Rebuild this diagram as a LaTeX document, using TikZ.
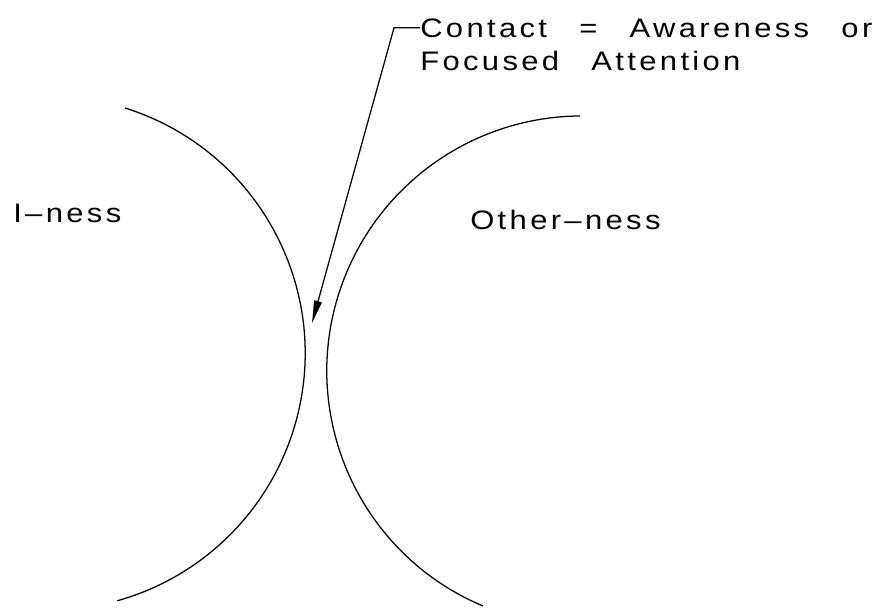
\documentclass[tikz,border=0pt]{standalone}
\usepackage{fontspec}
\setmainfont{Liberation Sans}
\newfontfamily\cadfont[FakeStretch=1.16,LetterSpace=12.5,WordSpace=2.7]{Liberation Sans}
\usetikzlibrary{arrows.meta}

\begin{document}
\begin{tikzpicture}[x=0.025cm, y=-0.025cm,
  cadtext/.style={font=\cadfont\fontsize{19}{23}\selectfont, inner sep=0pt, anchor=base west},
  contour/.style={line width=0.9pt},
  pointer/.style={line width=0.9pt, -{Triangle[length=16pt, width=5.5pt]}},
]
  \useasboundingbox (0,0) rectangle (874,607);

  % the two regions ---------------------------------------------------------
  \draw[contour] (125,108) arc[start angle=-72.6, end angle=74.4, radius=257];
  \draw[contour] (483,606) arc[start angle=112.8, end angle=269.55, radius=255];
  \node[cadtext] (iness) at (13,222) {I–ness};
  \node[cadtext] (otherness) at (470,229) {Other–ness};

  % contact callout ---------------------------------------------------------
  \node[cadtext] (contact) at (420,37) {Contact = Awareness or};
  \node[cadtext] (focused) at (420,70) {Focused Attention};
  \coordinate (touch) at (312,323);
  \draw[pointer] (contact.west) -- ++(-26,0) -- (touch);
\end{tikzpicture}
\end{document}
